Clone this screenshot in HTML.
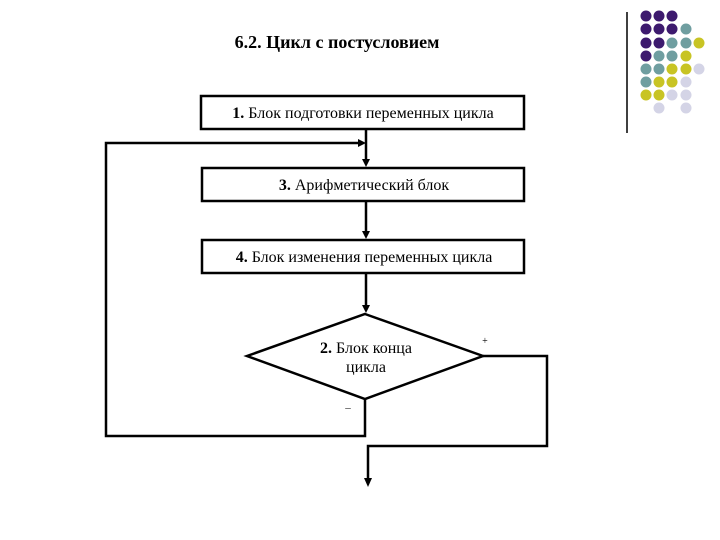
<!DOCTYPE html>
<html><head><meta charset="utf-8"><style>
html,body{margin:0;padding:0;background:#fff;}
svg{display:block;}
text{font-family:"Liberation Serif",serif;fill:#000;}
</style></head><body>
<svg width="720" height="540" viewBox="0 0 720 540" xmlns="http://www.w3.org/2000/svg">
<text x="337" y="48" font-size="18" font-weight="bold" text-anchor="middle">6.2. Цикл с постусловием</text>
<line x1="627" y1="12" x2="627" y2="133" stroke="#000" stroke-width="1.5"/>
<g>
<circle cx="646" cy="16" r="5.5" fill="#3d1a6e"/><circle cx="659" cy="16" r="5.5" fill="#3d1a6e"/><circle cx="672" cy="16" r="5.5" fill="#3d1a6e"/>
<circle cx="646" cy="29" r="5.5" fill="#3d1a6e"/><circle cx="659" cy="29" r="5.5" fill="#3d1a6e"/><circle cx="672" cy="29" r="5.5" fill="#3d1a6e"/><circle cx="686" cy="29" r="5.5" fill="#6f9ea0"/>
<circle cx="646" cy="43" r="5.5" fill="#3d1a6e"/><circle cx="659" cy="43" r="5.5" fill="#3d1a6e"/><circle cx="672" cy="43" r="5.5" fill="#6f9ea0"/><circle cx="686" cy="43" r="5.5" fill="#6f9ea0"/><circle cx="699" cy="43" r="5.5" fill="#c8c424"/>
<circle cx="646" cy="56" r="5.5" fill="#3d1a6e"/><circle cx="659" cy="56" r="5.5" fill="#6f9ea0"/><circle cx="672" cy="56" r="5.5" fill="#6f9ea0"/><circle cx="686" cy="56" r="5.5" fill="#c8c424"/>
<circle cx="646" cy="69" r="5.5" fill="#6f9ea0"/><circle cx="659" cy="69" r="5.5" fill="#6f9ea0"/><circle cx="672" cy="69" r="5.5" fill="#c8c424"/><circle cx="686" cy="69" r="5.5" fill="#c8c424"/><circle cx="699" cy="69" r="5.5" fill="#d4d4e6"/>
<circle cx="646" cy="82" r="5.5" fill="#6f9ea0"/><circle cx="659" cy="82" r="5.5" fill="#c8c424"/><circle cx="672" cy="82" r="5.5" fill="#c8c424"/><circle cx="686" cy="82" r="5.5" fill="#d4d4e6"/>
<circle cx="646" cy="95" r="5.5" fill="#c8c424"/><circle cx="659" cy="95" r="5.5" fill="#c8c424"/><circle cx="672" cy="95" r="5.5" fill="#d4d4e6"/><circle cx="686" cy="95" r="5.5" fill="#d4d4e6"/>
<circle cx="659" cy="108" r="5.5" fill="#d4d4e6"/><circle cx="686" cy="108" r="5.5" fill="#d4d4e6"/>
</g>
<g fill="none" stroke="#000" stroke-width="2.5">
<rect x="201" y="96" width="323" height="33"/>
<rect x="202" y="168" width="322" height="33"/>
<rect x="202" y="240" width="322" height="33"/>
<polygon points="365,314 483,356 365,399 247,356"/>
<line x1="366" y1="129" x2="366" y2="163"/>
<line x1="366" y1="201" x2="366" y2="235"/>
<line x1="366" y1="273" x2="366" y2="309"/>
<polyline points="365,399 365,436 106,436 106,143 362,143"/>
<polyline points="483,356 547,356 547,446 368,446 368,482"/>
</g>
<g fill="#000">
<polygon points="362,159 370,159 366,167"/>
<polygon points="362,231 370,231 366,239"/>
<polygon points="362,305 370,305 366,313"/>
<polygon points="358,139 358,147 366,143"/>
<polygon points="364,478 372,478 368,487"/>
</g>
<text x="363" y="118" font-size="16" text-anchor="middle"><tspan font-weight="bold">1.</tspan> Блок подготовки переменных цикла</text>
<text x="364" y="190" font-size="16" text-anchor="middle"><tspan font-weight="bold">3.</tspan> Арифметический блок</text>
<text x="364" y="262" font-size="16" text-anchor="middle"><tspan font-weight="bold">4.</tspan> Блок изменения переменных цикла</text>
<text x="366" y="353" font-size="16" text-anchor="middle"><tspan font-weight="bold">2.</tspan> Блок конца</text>
<text x="366" y="372" font-size="16" text-anchor="middle">цикла</text>
<text x="485" y="344" font-size="10" text-anchor="middle">+</text>
<text x="348" y="411" font-size="11" text-anchor="middle">–</text>
</svg>
</body></html>
